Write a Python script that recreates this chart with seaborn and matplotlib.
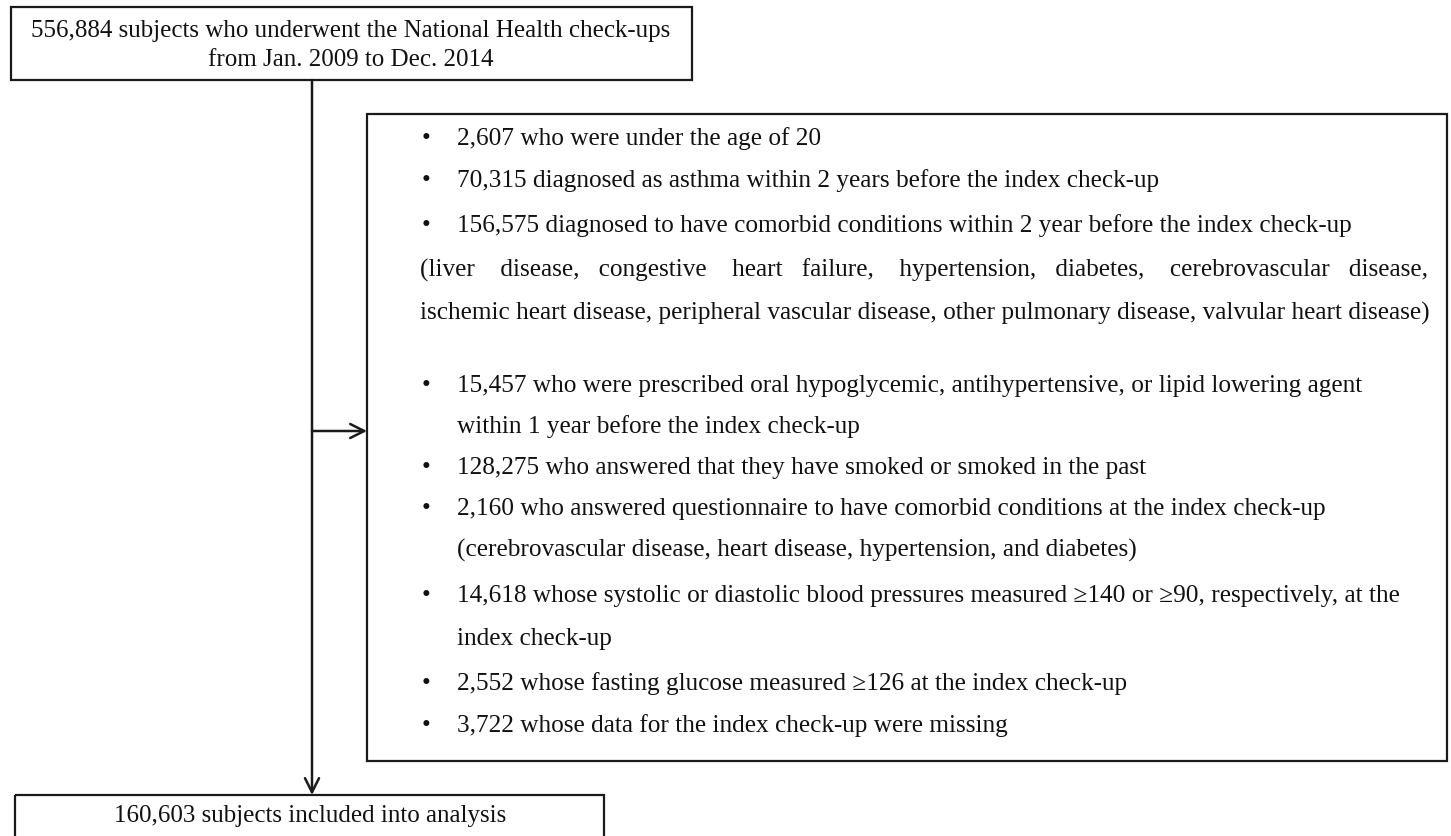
import matplotlib
matplotlib.use("Agg")
import matplotlib.pyplot as plt
import seaborn as sns
from matplotlib.patches import Rectangle

# Textes du diagramme de flux
TOP_LINES = ["556,884 subjects who underwent the National Health check-ups",
             "from Jan. 2009 to Dec. 2014"]
BOTTOM_TEXT = "160,603 subjects included into analysis"

EXCL_LINES = [
    "2,607 who were under the age of 20",
    "70,315 diagnosed as asthma within 2 years before the index check-up",
    "156,575 diagnosed to have comorbid conditions within 2 year before the index check-up",
    "(liver disease, congestive heart failure, hypertension, diabetes, cerebrovascular disease,",
    "ischemic heart disease, peripheral vascular disease, other pulmonary disease, valvular heart disease)",
    "15,457 who were prescribed oral hypoglycemic, antihypertensive, or lipid lowering agent",
    "within 1 year before the index check-up",
    "128,275 who answered that they have smoked or smoked in the past",
    "2,160 who answered questionnaire to have comorbid conditions at the index check-up",
    "(cerebrovascular disease, heart disease, hypertension, and diabetes)",
    "14,618 whose systolic or diastolic blood pressures measured \u2265140 or \u226590, respectively, at the",
    "index check-up",
    "2,552 whose fasting glucose measured \u2265126 at the index check-up",
    "3,722 whose data for the index check-up were missing",
]
# 'b' = puce, 'i' = suite indentée, 'p' = paragraphe sans puce, 'j' = paragraphe justifié
EXCL_KIND = ["b", "b", "b", "j", "p", "b", "i", "b", "b", "i", "b", "i", "b", "b"]

# Mise en page (pixels)
W, H = 1451, 837
LINE_Y = [137, 179, 224, 269, 312, 384, 425, 466, 507, 549, 594, 637, 682, 724]
BASE_OFF = 8  # centre visuel -> ligne de base
X_BULLET, X_TEXT, X_PARA, X_RIGHT = 426, 457, 420, 1431
ARROW_X, ARROW_Y = 312, 432

sns.set_theme(style="white")
plt.rcParams['font.family'] = ['Liberation Serif', 'DejaVu Serif']

fig = plt.figure(figsize=(W / 100, H / 100), dpi=100)
ax = fig.add_axes([0, 0, 1, 1])
ax.set_xlim(0, W)
ax.set_ylim(H, 0)
ax.axis("off")

EDGE = "#1a1a1a"
TXT = "#111111"

# Boites
ax.add_patch(Rectangle((11, 8), 681, 73, fill=False, lw=1.6, ec=EDGE))
ax.add_patch(Rectangle((367, 115), 1080, 647, fill=False, lw=1.6, ec=EDGE))
ax.add_patch(Rectangle((15, 796), 589, 80, fill=False, lw=1.6, ec=EDGE))

# Fleches
arrow = dict(arrowstyle="->,head_length=0.8,head_width=0.4", lw=1.8, color=EDGE,
             mutation_scale=12.6, shrinkA=0, shrinkB=0)
ax.annotate("", xy=(ARROW_X, 796), xytext=(ARROW_X, 81), arrowprops=arrow)
ax.annotate("", xy=(367, ARROW_Y), xytext=(ARROW_X, ARROW_Y), arrowprops=arrow)

# Textes boite haute et basse
for y, line in zip([31, 60], TOP_LINES):
    ax.text(351, y, line, ha="center", va="center", fontsize=18, color=TXT)
ax.text(310, 816, BOTTOM_TEXT, ha="center", va="center", fontsize=18, color=TXT)

# Criteres d'exclusion
fig.canvas.draw()
renderer = fig.canvas.get_renderer()
FS = 18.2
kw = dict(va="baseline", fontsize=FS, color=TXT)


def text_width(s):
    t = ax.text(0, 0, s, fontsize=FS)
    w = t.get_window_extent(renderer).width
    t.remove()
    return w


def justify(line, width):
    # ligne justifiée: on répartit des espaces entre les mots
    words = line.split()
    wsp = text_width("x x") - text_width("xx")
    widths = [text_width(w) for w in words]
    gap = (width - sum(widths)) / (len(words) - 1)
    out, pos, target = words[0], widths[0], widths[0]
    for w, wd in zip(words[1:], widths[1:]):
        target += gap
        n = max(1, round((target - pos) / wsp))
        out += " " * n + w
        pos += n * wsp + wd
        target += wd
    return out


for y, line, kind in zip(LINE_Y, EXCL_LINES, EXCL_KIND):
    yb = y + BASE_OFF
    if kind == "b":
        ax.text(X_BULLET, yb, "\u2022", ha="center", **kw)
        ax.text(X_TEXT, yb, line, ha="left", **kw)
    elif kind == "i":
        ax.text(X_TEXT, yb, line, ha="left", **kw)
    elif kind == "p":
        ax.text(X_PARA, yb, line, ha="left", **kw)
    else:
        ax.text(X_PARA, yb, justify(line, X_RIGHT - X_PARA), ha="left", **kw)

fig.savefig("out.png", dpi=100, facecolor="white")
